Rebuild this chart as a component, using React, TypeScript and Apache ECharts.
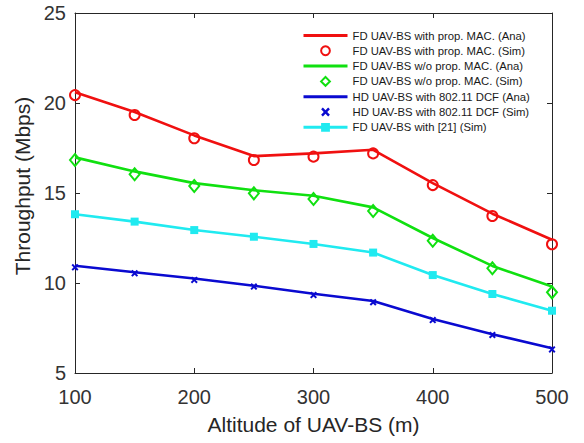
import React, { useEffect, useRef } from "react";
import * as echarts from "echarts";

const altitudes = [100, 150, 200, 250, 300, 350, 400, 450, 500];
const fdPropAna = [20.6, 19.5, 18.2, 17.05, 17.2, 17.4, 15.55, 13.85, 12.4];
const fdPropSim = [20.44, 19.33, 18.04, 16.83, 17.02, 17.2, 15.44, 13.72, 12.15];
const fdNoPropAna = [16.98, 16.2, 15.55, 15.15, 14.85, 14.2, 12.5, 10.95, 9.8];
const fdNoPropSim = [16.83, 16.04, 15.39, 14.98, 14.67, 14.0, 12.35, 10.82, 9.48];
const hdDcfAna = [10.96, 10.6, 10.25, 9.85, 9.4, 9.0, 8.0, 7.15, 6.38];
const hdDcfSim = [10.87, 10.54, 10.17, 9.8, 9.33, 8.93, 7.94, 7.11, 6.31];
const fdRef21Sim = [13.82, 13.41, 12.94, 12.57, 12.17, 11.69, 10.44, 9.39, 8.46];

const names = [
  "FD UAV-BS with prop. MAC. (Ana)",
  "FD UAV-BS with prop. MAC. (Sim)",
  "FD UAV-BS w/o prop. MAC. (Ana)",
  "FD UAV-BS w/o prop. MAC. (Sim)",
  "HD UAV-BS with 802.11 DCF (Ana)",
  "HD UAV-BS with 802.11 DCF (Sim)",
  "FD UAV-BS with [21] (Sim)",
];

const RED = "#f01010";
const GREEN = "#10e010";
const BLUE = "#0a0ad0";
const CYAN = "#20eaf0";
const AXIS = "#262626";
const FONT = "'Liberation Sans', Arial, Helvetica, sans-serif";
const XMARK =
  "path://M0,2 L2,0 L5,3 L8,0 L10,2 L7,5 L10,8 L8,10 L5,7 L2,10 L0,8 L3,5 Z";

const pairs = (ys: number[]) => altitudes.map((x, i) => [x, ys[i]]);

export default function App() {
  const ref = useRef<HTMLDivElement>(null);
  useEffect(() => {
    if (!ref.current) return;
    const chart = echarts.init(ref.current, undefined, { renderer: "svg" });
    const anaLine = (name: string, ys: number[], color: string) => ({
      name,
      type: "line",
      data: pairs(ys),
      symbol: "none",
      lineStyle: { color, width: 2.6 },
      itemStyle: { color },
      z: 2,
    });
    const simMarks = (
      name: string,
      ys: number[],
      symbol: string,
      size: number | number[],
      itemStyle: any
    ) => ({
      name,
      type: "line",
      data: pairs(ys),
      symbol,
      symbolSize: size,
      showSymbol: true,
      lineStyle: { width: 0, opacity: 0 },
      itemStyle,
      z: 3,
    });
    const option = {
      animation: false,
      backgroundColor: "#fff",
      textStyle: { fontFamily: FONT },
      grid: { left: 75, right: 32, top: 13, bottom: 70, containLabel: false },
      legend: {
        left: 302,
        top: 30,
        padding: 0,
        orient: "vertical",
        itemWidth: 44,
        itemHeight: 11,
        itemGap: 4.3,
        selectedMode: false,
        textStyle: { fontSize: 11.3, color: "#1a1a1a", fontFamily: FONT },
        data: [
          { name: names[0], itemStyle: { opacity: 0 }, lineStyle: { width: 3, color: RED } },
          {
            name: names[1],
            lineStyle: { width: 0, opacity: 0 },
            itemStyle: { color: "rgba(0,0,0,0)", borderColor: RED, borderWidth: 2 },
          },
          { name: names[2], itemStyle: { opacity: 0 }, lineStyle: { width: 3, color: GREEN } },
          {
            name: names[3],
            lineStyle: { width: 0, opacity: 0 },
            itemStyle: { color: "rgba(0,0,0,0)", borderColor: GREEN, borderWidth: 2 },
          },
          { name: names[4], itemStyle: { opacity: 0 }, lineStyle: { width: 3, color: BLUE } },
          {
            name: names[5],
            lineStyle: { width: 0, opacity: 0 },
            itemStyle: { color: BLUE, borderWidth: 0 },
          },
          {
            name: names[6],
            lineStyle: { width: 3, color: CYAN },
            itemStyle: { color: CYAN, borderWidth: 0 },
          },
        ],
      },
      xAxis: [
        {
          type: "value",
          min: 100,
          max: 500,
          interval: 100,
          name: "Altitude of UAV-BS (m)",
          nameLocation: "middle",
          nameGap: 41,
          nameTextStyle: { fontSize: 21, color: AXIS, fontFamily: FONT },
          axisLine: { show: true, lineStyle: { color: AXIS, width: 1 } },
          axisTick: { show: true, inside: true, length: 5, lineStyle: { color: AXIS } },
          axisLabel: { fontSize: 20, color: "#333", margin: 14, fontFamily: FONT },
          splitLine: { show: false },
        },
        {
          type: "value",
          position: "top",
          min: 100,
          max: 500,
          interval: 100,
          axisLine: { show: true, onZero: false, lineStyle: { color: AXIS, width: 1 } },
          axisTick: { show: true, inside: true, length: 5, lineStyle: { color: AXIS } },
          axisLabel: { show: false },
          splitLine: { show: false },
        },
      ],
      yAxis: [
        {
          type: "value",
          min: 5,
          max: 25,
          interval: 5,
          name: "Throughput (Mbps)",
          nameLocation: "middle",
          nameGap: 38,
          nameTextStyle: { fontSize: 21, color: AXIS, fontFamily: FONT, padding: [0, 0, 0, 14] },
          axisLine: { show: true, lineStyle: { color: AXIS, width: 1 } },
          axisTick: { show: true, inside: true, length: 5, lineStyle: { color: AXIS } },
          axisLabel: { fontSize: 20, color: "#333", margin: 9, fontFamily: FONT },
          splitLine: { show: false },
        },
        {
          type: "value",
          position: "right",
          min: 5,
          max: 25,
          interval: 5,
          axisLine: { show: true, onZero: false, lineStyle: { color: AXIS, width: 1 } },
          axisTick: { show: true, inside: true, length: 5, lineStyle: { color: AXIS } },
          axisLabel: { show: false },
          splitLine: { show: false },
        },
      ],
      series: [
        anaLine(names[0], fdPropAna, RED),
        simMarks(names[1], fdPropSim, "circle", 10, {
          color: "rgba(0,0,0,0)",
          borderColor: RED,
          borderWidth: 2,
        }),
        anaLine(names[2], fdNoPropAna, GREEN),
        simMarks(names[3], fdNoPropSim, "diamond", [10, 12], {
          color: "rgba(0,0,0,0)",
          borderColor: GREEN,
          borderWidth: 2,
        }),
        anaLine(names[4], hdDcfAna, BLUE),
        simMarks(names[5], hdDcfSim, XMARK, 7, { color: BLUE, borderWidth: 0 }),
        {
          name: names[6],
          type: "line",
          data: pairs(fdRef21Sim),
          symbol: "rect",
          symbolSize: 8,
          showSymbol: true,
          lineStyle: { color: CYAN, width: 2.6 },
          itemStyle: { color: CYAN, borderWidth: 0 },
          z: 2,
        },
      ],
    };
    chart.setOption(option as any);
    return () => chart.dispose();
  }, []);
  return (
    <div
      ref={ref}
      style={{ position: "fixed", left: 0, top: 0, width: 584, height: 443, background: "#fff" }}
    />
  );
}
